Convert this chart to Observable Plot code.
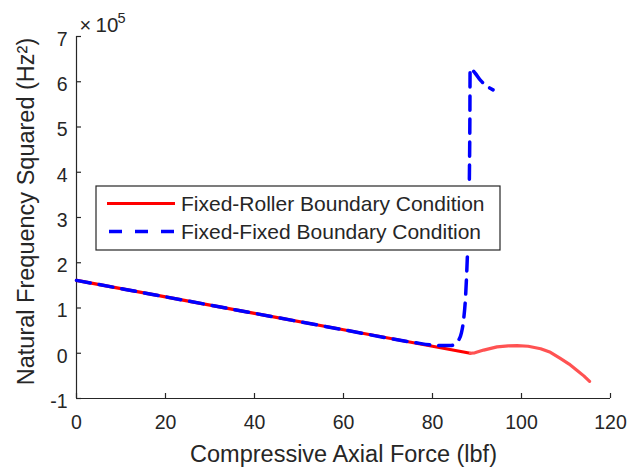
<!DOCTYPE html>
<html>
<head>
<meta charset="utf-8">
<script src="https://cdn.jsdelivr.net/npm/d3@7"></script>
<script src="https://cdn.jsdelivr.net/npm/@observablehq/plot@0.6"></script>
<style>
  html, body { margin: 0; padding: 0; background: #fff; }
  #chart { width: 629px; height: 472px; }
  svg { font-family: "Liberation Sans", Arial, Helvetica, sans-serif; }
</style>
</head>
<body>
<div id="chart"></div>
<script>
// Natural frequency squared (×10^5 Hz²) versus compressive axial force (lbf)
const rollerForce = [0, 20, 40, 60, 80, 88.5, 89.5, 91.5, 94.5, 97, 99, 101.5, 104.3, 106.5, 108.8, 110.7, 112.5, 114, 115.3];
const rollerFreq2 = [1.61, 1.246, 0.882, 0.519, 0.155, 0.0, 0.01, 0.07, 0.14, 0.165, 0.17, 0.155, 0.10, 0.02, -0.12, -0.24, -0.38, -0.5, -0.62];

const fixedForce = [0, 20, 40, 60, 76, 80, 82, 84, 85, 85.8, 86.5, 87, 87.4, 87.8, 88.1, 88.3, 88.4, 88.45, 89.5, 90.8, 92, 93.6];
const fixedFreq2 = [1.61, 1.246, 0.882, 0.519, 0.235, 0.18, 0.17, 0.17, 0.2, 0.28, 0.45, 0.75, 1.2, 2.05, 2.9, 4.0, 5.2, 6.29, 6.2, 6.03, 5.92, 5.82];

const xTicks = [0, 20, 40, 60, 80, 100, 120];
const yTicks = [-1, 0, 1, 2, 3, 4, 5, 6, 7];

const seriesNames = ["Fixed-Roller Boundary Condition", "Fixed-Fixed Boundary Condition"];
const seriesColors = ["#ff0000", "#0000ff"];

const roller = rollerForce.map((x, i) => ({x, y: rollerFreq2[i]}));
const fixed = fixedForce.map((x, i) => ({x, y: fixedFreq2[i]}));
const kink = 88.5;

const ink = "#262626";
const W = 629, H = 472;
const mL = 76, mR = 19, mT = 36, mB = 74;
const tickLen = 5;

const chart = Plot.plot({
  width: W,
  height: H,
  marginLeft: mL,
  marginRight: mR,
  marginTop: mT,
  marginBottom: mB,
  style: {fontFamily: "'Liberation Sans', Arial, sans-serif", color: ink, background: "#fff"},
  x: {domain: [0, 120]},
  y: {domain: [-1, 7]},
  marks: [
    // Tick labels (ticks themselves are drawn inward below)
    Plot.axisX({ticks: xTicks, tickSize: 0, tickPadding: 17, tickFormat: d => String(d), fontSize: 19.5, label: null, fill: ink}),
    Plot.axisY({ticks: yTicks, tickSize: 0, tickPadding: 9, tickFormat: d => String(d), fontSize: 19.5, label: null, fill: ink, dy: 3}),
    // Inward-pointing ticks
    Plot.tickX(xTicks, {x: d => d, stroke: ink, strokeWidth: 1.2, insetTop: H - mT - mB - tickLen}),
    Plot.tickY(yTicks, {y: d => d, stroke: ink, strokeWidth: 1.2, insetRight: W - mL - mR - tickLen}),
    // Axis lines (left and bottom only)
    Plot.ruleX([0], {stroke: ink, strokeWidth: 1.2}),
    Plot.ruleY([-1], {stroke: ink, strokeWidth: 1.2}),
    // Fixed-roller branch up to the first crossing, then its continuation
    Plot.line(roller.filter(d => d.x <= kink), {x: "x", y: "y", stroke: seriesColors[0], strokeWidth: 3.2}),
    Plot.line(roller.filter(d => d.x >= kink), {x: "x", y: "y", stroke: "#ff5252", strokeWidth: 3.2}),
    // Fixed-fixed branch, dashed
    Plot.line(fixed, {x: "x", y: "y", stroke: seriesColors[1], strokeWidth: 3.5, strokeDasharray: "14,9", curve: "monotone-x"}),
    // Axis titles
    Plot.text(["Compressive Axial Force (lbf)"], {frameAnchor: "bottom", text: d => d, dy: 56, fontSize: 23.5, fill: ink, textAnchor: "middle", lineAnchor: "middle"}),
    Plot.text(["Natural Frequency Squared (Hz²)"], {frameAnchor: "left", text: d => d, dx: -50, dy: -6, rotate: -90, fontSize: 23.5, fill: ink, textAnchor: "middle", lineAnchor: "middle"}),
    // Exponent multiplier above the y axis
    Plot.text(["×"], {frameAnchor: "top-left", text: d => d, dx: 3, dy: -4.5, fontSize: 20, fill: ink, textAnchor: "start", lineAnchor: "bottom"}),
    Plot.text(["10"], {frameAnchor: "top-left", text: d => d, dx: 19, dy: -4.5, fontSize: 20.5, fill: ink, textAnchor: "start", lineAnchor: "bottom"}),
    Plot.text(["5"], {frameAnchor: "top-left", text: d => d, dx: 41, dy: -13.5, fontSize: 14.5, fill: ink, textAnchor: "start", lineAnchor: "bottom"})
  ]
});

// Legend box inside the plot area
const svg = d3.select(chart);
const lg = svg.append("g").attr("class", "legend").attr("text-anchor", "start");
lg.append("rect")
  .attr("x", 96).attr("y", 186).attr("width", 404).attr("height", 64)
  .attr("fill", "#fff").attr("stroke", ink).attr("stroke-width", 1.2);
const rows = [203.5, 231.5];
seriesNames.forEach((name, i) => {
  const line = lg.append("line")
    .attr("x1", i === 0 ? 107 : 109).attr("x2", 175)
    .attr("y1", rows[i]).attr("y2", rows[i])
    .attr("stroke", seriesColors[i])
    .attr("stroke-width", i === 0 ? 3.2 : 3.5);
  if (i === 1) line.attr("stroke-dasharray", "13,13");
  lg.append("text")
    .attr("x", 181).attr("y", rows[i]).attr("dy", "0.36em")
    .attr("text-anchor", "start")
    .attr("font-size", 21).attr("fill", ink)
    .text(name);
});

document.getElementById("chart").appendChild(chart);
</script>
</body>
</html>
